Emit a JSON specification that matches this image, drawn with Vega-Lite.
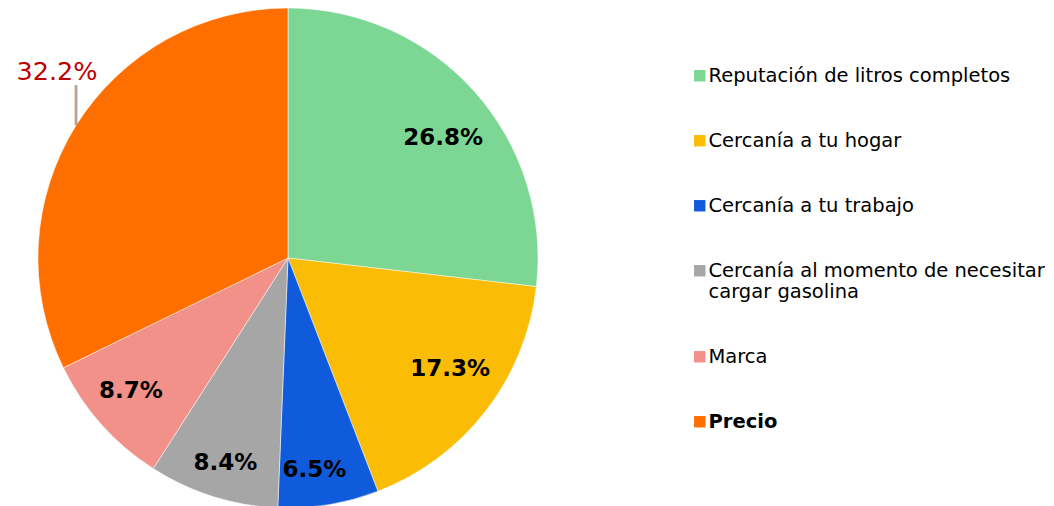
{
  "$schema": "https://vega.github.io/schema/vega-lite/v6.json",
  "width": 576,
  "height": 516,
  "padding": 0,
  "background": "white",
  "config": {"view": {"stroke": null}},
  "data": {
    "values": [
      {"idx": 1, "motivo": "Reputación de litros completos", "share": 0.268},
      {"idx": 2, "motivo": "Cercanía a tu hogar", "share": 0.173},
      {"idx": 3, "motivo": "Cercanía a tu trabajo", "share": 0.065},
      {"idx": 4, "motivo": "Cercanía al momento de necesitar cargar gasolina", "share": 0.084},
      {"idx": 5, "motivo": "Marca", "share": 0.087},
      {"idx": 6, "motivo": "Precio", "share": 0.322}
    ]
  },
  "encoding": {
    "theta": {"field": "share", "type": "quantitative", "stack": true},
    "order": {"field": "idx", "type": "quantitative"}
  },
  "layer": [
    {
      "mark": {"type": "arc", "radius": 250, "stroke": "white", "strokeWidth": 0.5},
      "encoding": {
        "color": {
          "field": "motivo",
          "type": "nominal",
          "sort": null,
          "scale": {
            "domain": ["Reputación de litros completos", "Cercanía a tu hogar", "Cercanía a tu trabajo", "Cercanía al momento de necesitar cargar gasolina", "Marca", "Precio"],
            "range": ["#7DD794", "#FBBC05", "#0F5BDB", "#A6A6A6", "#F2908A", "#FF6F00"]
          },
          "legend": {
            "orient": "none",
            "legendX": 690,
            "legendY": 66,
            "title": null,
            "symbolType": "square",
            "symbolSize": 130,
            "symbolStrokeWidth": 0,
            "labelFont": "DejaVu Sans",
            "labelFontSize": 19.5,
            "labelColor": "black",
            "labelLimit": 500,
            "labelOffset": -1,
            "rowPadding": 44,
            "labelFontWeight": {"expr": "datum.value == 'Precio' ? 'bold' : 'normal'"},
            "labelExpr": "datum.label == 'Cercanía al momento de necesitar cargar gasolina' ? ['Cercanía al momento de necesitar', 'cargar gasolina'] : datum.label"
          }
        }
      }
    },
    {
      "mark": {"type": "text", "radius": 205, "dx": 2, "dy": 16, "font": "DejaVu Sans", "fontSize": 23, "fontWeight": "bold", "color": "black"},
      "encoding": {
        "text": {"field": "share", "type": "quantitative", "format": ".1%"},
        "opacity": {"condition": {"test": "datum.idx == 1", "value": 1}, "value": 0}
      }
    },
    {
      "mark": {"type": "text", "radius": 205, "dy": -14, "font": "DejaVu Sans", "fontSize": 23, "fontWeight": "bold", "color": "black"},
      "encoding": {
        "text": {"field": "share", "type": "quantitative", "format": ".1%"},
        "opacity": {"condition": {"test": "datum.idx == 2", "value": 1}, "value": 0}
      }
    },
    {
      "mark": {"type": "text", "radius": 205, "dx": -7, "dy": 10, "font": "DejaVu Sans", "fontSize": 23, "fontWeight": "bold", "color": "black"},
      "encoding": {
        "text": {"field": "share", "type": "quantitative", "format": ".1%"},
        "opacity": {"condition": {"test": "datum.idx == 3", "value": 1}, "value": 0}
      }
    },
    {
      "mark": {"type": "text", "radius": 205, "dx": -1, "dy": 9, "font": "DejaVu Sans", "fontSize": 23, "fontWeight": "bold", "color": "black"},
      "encoding": {
        "text": {"field": "share", "type": "quantitative", "format": ".1%"},
        "opacity": {"condition": {"test": "datum.idx == 4", "value": 1}, "value": 0}
      }
    },
    {
      "mark": {"type": "text", "radius": 205, "dx": -4, "dy": -3, "font": "DejaVu Sans", "fontSize": 23, "fontWeight": "bold", "color": "black"},
      "encoding": {
        "text": {"field": "share", "type": "quantitative", "format": ".1%"},
        "opacity": {"condition": {"test": "datum.idx == 5", "value": 1}, "value": 0}
      }
    },
    {
      "mark": {"type": "text", "radius": 290, "dx": 15, "dy": -32, "font": "DejaVu Sans", "fontSize": 25.5, "color": "#C00000"},
      "encoding": {
        "text": {"field": "share", "type": "quantitative", "format": ".1%"},
        "opacity": {"condition": {"test": "datum.idx == 6", "value": 1}, "value": 0}
      }
    },
    {
      "mark": {"type": "text", "radius": 290, "dx": 34, "dy": 3, "font": "DejaVu Sans", "fontSize": 34, "color": "#A6A6A6", "text": "│"},
      "encoding": {
        "opacity": {"condition": {"test": "datum.idx == 6", "value": 1}, "value": 0}
      }
    }
  ]
}
